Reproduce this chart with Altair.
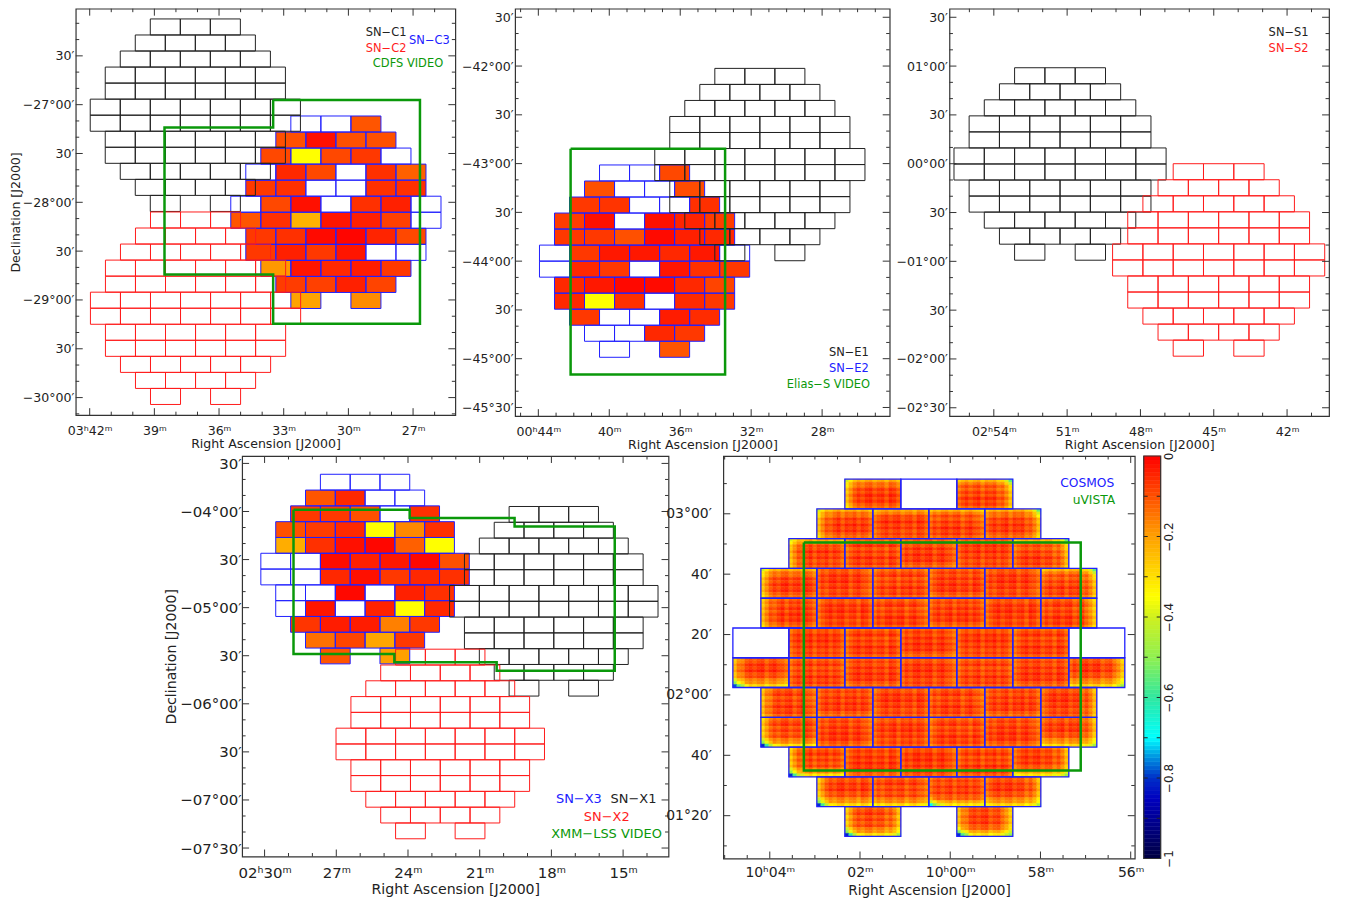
import json
import altair as alt
import pandas as pd

FONT = "DejaVu Sans"
INK = "#222222"
BLACK = "#222222"
RED = "#ff1c1c"
BLUE = "#2020ff"
GREEN = "#0a980a"

ROW_COUNTS = [3, 4, 5, 6, 6, 7, 7, 6, 6, 5, 4, 2]
TILE_H = 0.1643

CB_VALUES = [-1, -0.85, -0.8, -0.75, -0.7, -0.6, -0.5, -0.4, -0.35, -0.2, -0.1, 0]
CB_COLORS = ["#000040", "#0000c0", "#0030c8", "#0090e0", "#00ffff", "#30e8a0",
             "#90f050", "#d0f020", "#ffff00", "#ffa000", "#ff5000", "#ff0000"]
COLOR = alt.Scale(domain=CB_VALUES, range=CB_COLORS, interpolate="rgb", clamp=True)

N = None
FILL_C3 = [
    [N, N, -.106],
    [-.10, -.02, -.10, -.10],
    [-.09, -.35, -.09, -.07, N],
    [N, -.05, -.09, N, -.06, -.12],
    [-.07, -.06, N, N, -.06, -.06],
    [N, -.09, -.02, N, -.06, -.04, N],
    [-.106, -.06, -.23, -.026, -.04, -.08, N],
    [-.07, -.06, -.012, -.006, -.045, -.09],
    [-.07, -.04, -.07, -.026, N, N],
    [-.19, -.026, -.05, -.035, -.07],
    [-.075, -.08, -.04, -.085],
    [-.205, -.175],
]
FILL_E2 = [
    [N, N, -.09],
    [-.10, N, N, -.095],
    [-.07, -.065, N, N, -.06],
    [-.075, -.02, N, -.02, -.045, -.075],
    [-.07, -.07, -.10, -.012, -.04, -.05],
    [N, -.07, -.03, -.03, -.05, -.03, N],
    [N, -.05, -.07, N, -.026, -.06, -.07],
    [-.05, -.03, -.01, -.012, -.05, -.085],
    [-.05, -.35, -.06, N, -.052, -.07],
    [-.07, N, N, -.035, -.055],
    [N, N, -.05, -.07],
    [N, -.106],
]
FILL_X3 = [
    [N, N, N],
    [-.106, -.05, N, N],
    [-.07, -.07, -.10, N, -.06],
    [-.10, -.075, -.052, -.35, -.17, -.06],
    [-.22, -.06, -.02, -.008, -.12, -.35],
    [N, N, -.015, -.04, -.03, -.01, -.10],
    [N, N, -.05, -.02, -.07, -.05, -.06],
    [N, N, -.01, N, -.04, -.06],
    [N, -.026, N, -.042, -.35, -.05],
    [-.066, -.035, -.035, -.16, -.07],
    [-.14, -.086, -.21, -.07],
    [-.106, -.20],
]

STREAK_ROWS = [
    [-.11, -.07, -.03, -.09, -.04, -.08, -.02, -.07, -.04, -.10],
    [-.10, -.05, -.08, -.03, -.07, -.02, -.06, -.03, -.08, -.11],
    [-.09, -.08, -.03, -.06, -.02, -.07, -.03, -.08, -.05, -.09],
]
STREAK_COLS = [
    [-.08, -.04, -.01, -.05, -.02, 0, -.06, -.01, -.03, 0, -.05, -.01, -.03, -.08],
    [-.07, -.02, -.05, -.01, 0, -.04, -.01, 0, -.06, -.02, 0, -.04, -.05, -.09],
    [-.09, -.05, -.02, 0, -.04, -.01, 0, -.05, -.02, -.01, -.06, 0, -.02, -.07],
]
FADE_L = [-.12, -.08, -.04, -.02, -.01, 0, 0, 0, 0, 0, 0, 0, 0, 0]
FADE_R = [0, 0, 0, 0, 0, 0, 0, 0, 0, -.01, -.02, -.04, -.08, -.12]
FADE_T = [-.10, -.06, -.03, -.01, 0, 0, 0, 0, 0, 0]
FADE_B = [0, 0, 0, 0, 0, -.01, -.03, -.06, -.11, -.18]
CORNER_J = [[-.06, -.02, 0, 0], [-.14, -.09, -.04, 0], [-.32, -.18, -.10, -.04]]
CORNER_K = [[-.03, -.07, -.14], [-.01, -.04, -.09], [0, -.02, -.04]]
EDGES = [
    ["TL", N, "TRK"],
    ["TL", "T", "T", "TRK"],
    ["TL", "", "", "", "TRK"],
    ["TL", "", "", "", "", "TRK"],
    ["L", "", "", "", "", "R"],
    [N, "", "", "", "", "", N],
    ["LBJ", "", "", "", "", "", "RB"],
    ["L", "", "", "", "", "R"],
    ["LBJ", "", "", "", "", "RB"],
    ["LBJ", "", "", "", "RB"],
    ["LBJ", "B", "BJ", "RB"],
    ["LBJR", "LBJR"],
]

C = "\u00a0"


def slots(row):
    n = ROW_COUNTS[row]
    return ([0, 2], 3) if n == 2 else (list(range(n)), n)


def tiles(ra_c, dec_top, w, fills=None):
    recs = []
    for r in range(12):
        sl, span = slots(r)
        for i, s in enumerate(sl):
            left = ra_c + w * span / 2 - w * s
            top = dec_top - r * TILE_H
            v = fills[r][i] if fills else None
            recs.append(dict(x0=left, x1=left - w, y0=top - TILE_H, y1=top, v=v))
    return pd.DataFrame(recs)


def key(v):
    return str(int(v)) if float(v).is_integer() else repr(float(v))


def minors(lo, hi, den, majors):
    lo, hi = min(lo, hi), max(lo, hi)
    out = []
    k = int(lo * den) - 1
    while k / den <= hi:
        v = k / den
        if lo <= v <= hi and all(abs(v - m) > 1e-6 for m in majors):
            out.append(v)
        k += 1
    return out


def panel(W, H, xdom, ydom, xlabels, ylabels, xden, yden, fields, greens, legends,
          lab=12.6, ttl=12.6, ytitle=None, ypad=4, xpad=9, xtp=1, ytp=0, cells=None, stroke_blue=1.0):
    sx = alt.Scale(domain=xdom, nice=False, zero=False)
    sy = alt.Scale(domain=ydom, nice=False, zero=False)
    xs = list(xlabels)
    ys = list(ylabels)
    xaxis = alt.Axis(values=xs, labelExpr=json.dumps({key(k): t for k, t in xlabels.items()}, ensure_ascii=False) + "[datum.value]",
                     ticks=False, domain=False, grid=False, title="Right Ascension [J2000]",
                     labelFont=FONT, labelFontSize=lab, labelColor=INK, titleFont=FONT, titleFontSize=ttl,
                     titleFontWeight="normal", titleColor=INK, labelPadding=xpad, titlePadding=xtp,
                     labelOverlap=False, labelFlush=False, labelBound=False)
    yaxis = alt.Axis(values=ys, labelExpr=json.dumps({key(k): t for k, t in ylabels.items()}, ensure_ascii=False) + "[datum.value]",
                     ticks=False, domain=False, grid=False, title=ytitle if ytitle else "",
                     labelFont=FONT, labelFontSize=lab, labelColor=INK, titleFont=FONT, titleFontSize=ttl,
                     titleFontWeight="normal", titleColor=INK, labelPadding=ypad, titlePadding=ytp,
                     labelOverlap=False, labelFlush=False, labelBound=False)
    X = lambda f: alt.X(f, scale=sx, axis=xaxis)
    Y = lambda f: alt.Y(f, scale=sy, axis=yaxis)
    layers = []

    def rect_enc():
        return dict(x=X("x0:Q"), x2="x1:Q", y=Y("y0:Q"), y2="y1:Q")

    if cells is not None:
        layers.append(alt.Chart(cells).mark_rect(strokeWidth=0.5).encode(
            fill=alt.Fill("v:Q", scale=COLOR, legend=None),
            stroke=alt.Stroke("v:Q", scale=COLOR, legend=None), **rect_enc()))
    for df, col in fields:
        if df["v"].notna().any():
            layers.append(alt.Chart(df[df["v"].notna()]).mark_rect().encode(
                fill=alt.Fill("v:Q", scale=COLOR, legend=None), **rect_enc()))
    for df, col in fields:
        sw = stroke_blue if col == BLUE else 1.0
        layers.append(alt.Chart(df).mark_rect(fill="transparent", stroke=col, strokeWidth=sw).encode(**rect_enc()))
    for g in greens:
        gd = pd.DataFrame({"ra": g[0], "dec": g[1], "o": list(range(len(g[0])))})
        layers.append(alt.Chart(gd).mark_line(color=GREEN, strokeWidth=2.5, strokeJoin="miter").encode(
            x=X("ra:Q"), y=Y("dec:Q"), order="o:Q"))

    xmin = minors(xdom[0], xdom[1], xden, xs)
    ymin = minors(ydom[0], ydom[1], yden, ys)
    vx = pd.DataFrame({"v": xs})
    vy = pd.DataFrame({"v": ys})
    vxm = pd.DataFrame({"v": xmin})
    vym = pd.DataFrame({"v": ymin})
    rule = dict(color="#333333", strokeWidth=1)
    layers += [
        alt.Chart(vx).mark_rule(**rule).encode(x=X("v:Q"), y=alt.value(H), y2=alt.value(H - 7)),
        alt.Chart(vx).mark_rule(**rule).encode(x=X("v:Q"), y=alt.value(0), y2=alt.value(7)),
        alt.Chart(vxm).mark_rule(**rule).encode(x=X("v:Q"), y=alt.value(H), y2=alt.value(H - 3.5)),
        alt.Chart(vxm).mark_rule(**rule).encode(x=X("v:Q"), y=alt.value(0), y2=alt.value(3.5)),
        alt.Chart(vy).mark_rule(**rule).encode(y=Y("v:Q"), x=alt.value(0), x2=alt.value(7)),
        alt.Chart(vy).mark_rule(**rule).encode(y=Y("v:Q"), x=alt.value(W), x2=alt.value(W - 7)),
        alt.Chart(vym).mark_rule(**rule).encode(y=Y("v:Q"), x=alt.value(0), x2=alt.value(3.5)),
        alt.Chart(vym).mark_rule(**rule).encode(y=Y("v:Q"), x=alt.value(W), x2=alt.value(W - 3.5)),
    ]
    for text, col, size, px, py in legends:
        layers.append(alt.Chart(pd.DataFrame({"t": [text]})).mark_text(
            font=FONT, fontSize=size, color=col, x=px, y=py, align="center", baseline="middle").encode(text="t:N"))
    return alt.layer(*layers).properties(width=W, height=H)


P1 = panel(
    381, 408, [42.647, 25.04], [-30.18, -26.017],
    {42: "03ʰ42ᵐ" + C * 4, 39: "39ᵐ", 36: "36ᵐ", 33: "33ᵐ", 30: "30ᵐ", 27: "27ᵐ"},
    {-26.5: "30′", -27: "−27°00′", -27.5: "30′", -28: "−28°00′", -28.5: "30′",
     -29: "−29°00′", -29.5: "30′", -30: "−30°00′"},
    1, 6,
    [(tiles(30.58, -27.116, 1.393, FILL_C3), BLUE),
     (tiles(37.10, -26.122, 1.393), BLACK),
     (tiles(37.09, -28.099, 1.393), RED)],
    [([33.49, 26.68, 26.68, 33.49, 33.49, 38.53, 38.53, 33.49, 33.49],
      [-26.953, -26.953, -29.245, -29.245, -28.739, -28.739, -27.235, -27.235, -26.953])],
    [("SN−C1", BLACK, 11.5, 311.5, 24.7), ("SN−C2", RED, 11.5, 311.5, 40.3),
     ("SN−C3", BLUE, 11.5, 355, 32.3), ("CDFS VIDEO", GREEN, 11.5, 333.5, 55.7)],
    ytitle="Declination [J2000]", ypad=2,
)

P2 = panel(
    376, 409, [45.31, 24.19], [-45.589, -41.412],
    {44: "00ʰ44ᵐ" + C * 5, 40: "40ᵐ", 36: "36ᵐ", 32: "32ᵐ", 28: "28ᵐ"},
    {-41.5: "30′", -42: "−42°00′", -42.5: "30′", -43: "−43°00′", -43.5: "30′",
     -44: "−44°00′", -44.5: "30′", -45: "−45°00′", -45.5: "−45°30′"},
    1, 6,
    [(tiles(38.01, -43.014, 1.693, FILL_E2), BLUE),
     (tiles(31.51, -42.024, 1.693), BLACK)],
    [([42.18, 33.47, 33.47, 42.18, 42.18], [-42.847, -42.847, -45.163, -45.163, -42.847])],
    [("SN−E1", BLACK, 11.5, 335, 345.7), ("SN−E2", BLUE, 11.5, 335, 361.3),
     ("Elias−S VIDEO", GREEN, 11.5, 314.5, 377.3)],
    ypad=2,
)

P3 = panel(
    381, 409, [55.815, 40.283], [-2.586, 1.588],
    {54: "02ʰ54ᵐ" + C * 5, 51: "51ᵐ", 48: "48ᵐ", 45: "45ᵐ", 42: "42ᵐ"},
    {1.5: "30′", 1: "01°00′", 0.5: "30′", 0: "00°00′", -0.5: "30′",
     -1: "−01°00′", -1.5: "30′", -2: "−02°00′", -2.5: "−02°30′"},
    1, 6,
    [(tiles(51.29, 0.983, 1.24), BLACK), (tiles(44.80, 0.0, 1.24), RED)],
    [],
    [("SN−S1", BLACK, 11.5, 340.4, 24.7), ("SN−S2", RED, 11.5, 340.4, 40.7)],
    ypad=2,
)

P4 = panel(
    428, 402, [30.94, 13.10], [-7.588, -3.423],
    {30: "02ʰ30ᵐ" + C * 4, 27: "27ᵐ", 24: "24ᵐ", 21: "21ᵐ", 18: "18ᵐ", 15: "15ᵐ"},
    {-3.5: "30′", -4: "−04°00′", -4.5: "30′", -5: "−05°00′", -5.5: "30′",
     -6: "−06°00′", -6.5: "30′", -7: "−07°00′", -7.5: "−07°30′"},
    1, 6,
    [(tiles(25.796, -3.613, 1.246, FILL_X3), BLUE),
     (tiles(17.90, -3.948, 1.246), BLACK),
     (tiles(22.65, -5.432, 1.246), RED)],
    [([28.79, 23.93, 23.93, 19.54, 19.54, 15.35, 15.35, 20.29, 20.29, 24.57, 24.57, 28.79, 28.79],
      [-3.982, -3.982, -4.068, -4.068, -4.155, -4.155, -5.656, -5.656, -5.569, -5.569, -5.483, -5.483, -3.982])],
    [("SN−X3", BLUE, 13, 338, 344.7), ("SN−X1", BLACK, 13, 392.8, 344.7),
     ("SN−X2", RED, 13, 366, 362.3), ("XMM−LSS VIDEO", GREEN, 13, 365.8, 379.7)],
    lab=15, ttl=14.2, ytitle="Declination [J2000]", ypad=1, ytp=1, xpad=9, xtp=2,
)


def cosmos_cells(ra_c, dec_top, w):
    nx, ny = len(STREAK_COLS[0]), len(STREAK_ROWS[0])
    recs = []
    idx = 0
    for r in range(12):
        sl, span = slots(r)
        for i, s in enumerate(sl):
            code = EDGES[r][i]
            idx += 1
            if code is None:
                continue
            left = ra_c + w * span / 2 - w * s
            top = dec_top - r * TILE_H
            rows = STREAK_ROWS[idx % 3]
            cols = STREAK_COLS[(idx * 2 + r) % 3]
            for iy in range(ny):
                for ix in range(nx):
                    v = rows[iy] + cols[ix]
                    if "L" in code:
                        v += FADE_L[ix]
                    if "R" in code:
                        v += FADE_R[ix]
                    if "T" in code:
                        v += FADE_T[iy]
                    if "B" in code:
                        v += FADE_B[iy]
                    if "J" in code and iy >= ny - 3 and ix < 4:
                        v += CORNER_J[iy - ny + 3][ix]
                    if "K" in code and iy < 3 and ix >= nx - 3:
                        v += CORNER_K[iy][ix - nx + 3]
                    recs.append(dict(x0=left - w * ix / nx, x1=left - w * (ix + 1) / nx,
                                     y0=top - TILE_H * (iy + 1) / ny, y1=top - TILE_H * iy / ny, v=max(v, -1)))
    return pd.DataFrame(recs)


P5 = panel(
    413, 404, [5.03, -4.09], [1.097, 3.319],
    {4: "10ʰ04ᵐ" + C * 4, 2: "02ᵐ", 0: "10ʰ00ᵐ", -2: "58ᵐ", -4: "56ᵐ"},
    {3: "03°00′", 8 / 3: "40′", 7 / 3: "20′", 2: "02°00′", 5 / 3: "40′", 4 / 3: "01°20′"},
    2, 6,
    [(tiles(0.4746, 3.191, 1.241), BLUE)],
    [([3.245, -2.892, -2.892, 3.245, 3.245], [2.842, 2.842, 1.583, 1.583, 2.842])],
    [("COSMOS", BLUE, 12.3, 365.3, 26.7), ("uVISTA", GREEN, 12.3, 372, 44)],
    lab=14, ttl=13.7, ypad=12, xpad=7, xtp=4, cells=cosmos_cells(0.4746, 3.191, 1.241), stroke_blue=1.3,
)

CB_TICKS = [-0.9, -0.8, -0.7, -0.6, -0.5, -0.4, -0.3, -0.2, -0.1]
CB_LABELS = {0: "0", -0.2: "−0.2", -0.4: "−0.4", -0.6: "−0.6", -0.8: "−0.8", -1: "−1"}
cb_steps = [k / 100 for k in range(-100, 0)]
cb = pd.DataFrame({"y0": cb_steps, "y1": [v + 0.01 for v in cb_steps], "v": [v + 0.005 for v in cb_steps]})
sy_cb = alt.Scale(domain=[-1, 0], nice=False, zero=False)
cb_axis = alt.Axis(values=list(CB_LABELS), orient="right", ticks=False, domain=False, grid=False, title="",
                   labelExpr=json.dumps({key(k): t for k, t in CB_LABELS.items()}, ensure_ascii=False) + "[datum.value]",
                   labelFont=FONT, labelFontSize=12, labelColor=INK, labelAngle=270, labelAlign="center",
                   labelBaseline="middle", labelPadding=34, labelOverlap=False, labelFlush=False, labelBound=False)
CB = alt.layer(
    alt.Chart(cb).mark_rect(strokeWidth=0.5).encode(
        x=alt.value(422), x2=alt.value(439),
        y=alt.Y("y0:Q", scale=sy_cb, axis=cb_axis), y2="y1:Q",
        fill=alt.Fill("v:Q", scale=COLOR, legend=None),
        stroke=alt.Stroke("v:Q", scale=COLOR, legend=None)),
    alt.Chart(pd.DataFrame({"v": CB_TICKS})).mark_rule(color="#222222").encode(
        y=alt.Y("v:Q", scale=sy_cb, axis=cb_axis), x=alt.value(422), x2=alt.value(426)),
    alt.Chart(pd.DataFrame({"v": CB_TICKS})).mark_rule(color="#222222").encode(
        y=alt.Y("v:Q", scale=sy_cb, axis=cb_axis), x=alt.value(439), x2=alt.value(435)),
    alt.Chart(pd.DataFrame({"a": [0]})).mark_rect(fill="transparent", stroke="#333333", strokeWidth=1.2).encode(
        x=alt.value(422), x2=alt.value(439), y=alt.value(0), y2=alt.value(404)),
)
P5CB = alt.layer(P5, CB).resolve_scale(y="independent")

SPACER = alt.Chart(pd.DataFrame({"a": [0]})).mark_point(opacity=0).properties(
    width=112, height=404, view=alt.ViewConfig(stroke="transparent"))

row1 = alt.hconcat(P1, P2, P3, spacing=60, bounds="flush")
row2 = alt.hconcat(SPACER, P4, P5CB, spacing=55, bounds="flush")

chart = alt.vconcat(row1, row2, spacing=-1).properties(
    padding={"left": 0, "top": -3, "right": 8, "bottom": 8}
).configure_view(stroke="#333333", strokeWidth=1.2)

chart.save("out.html", embed_options={"renderer": "svg", "actions": False})
